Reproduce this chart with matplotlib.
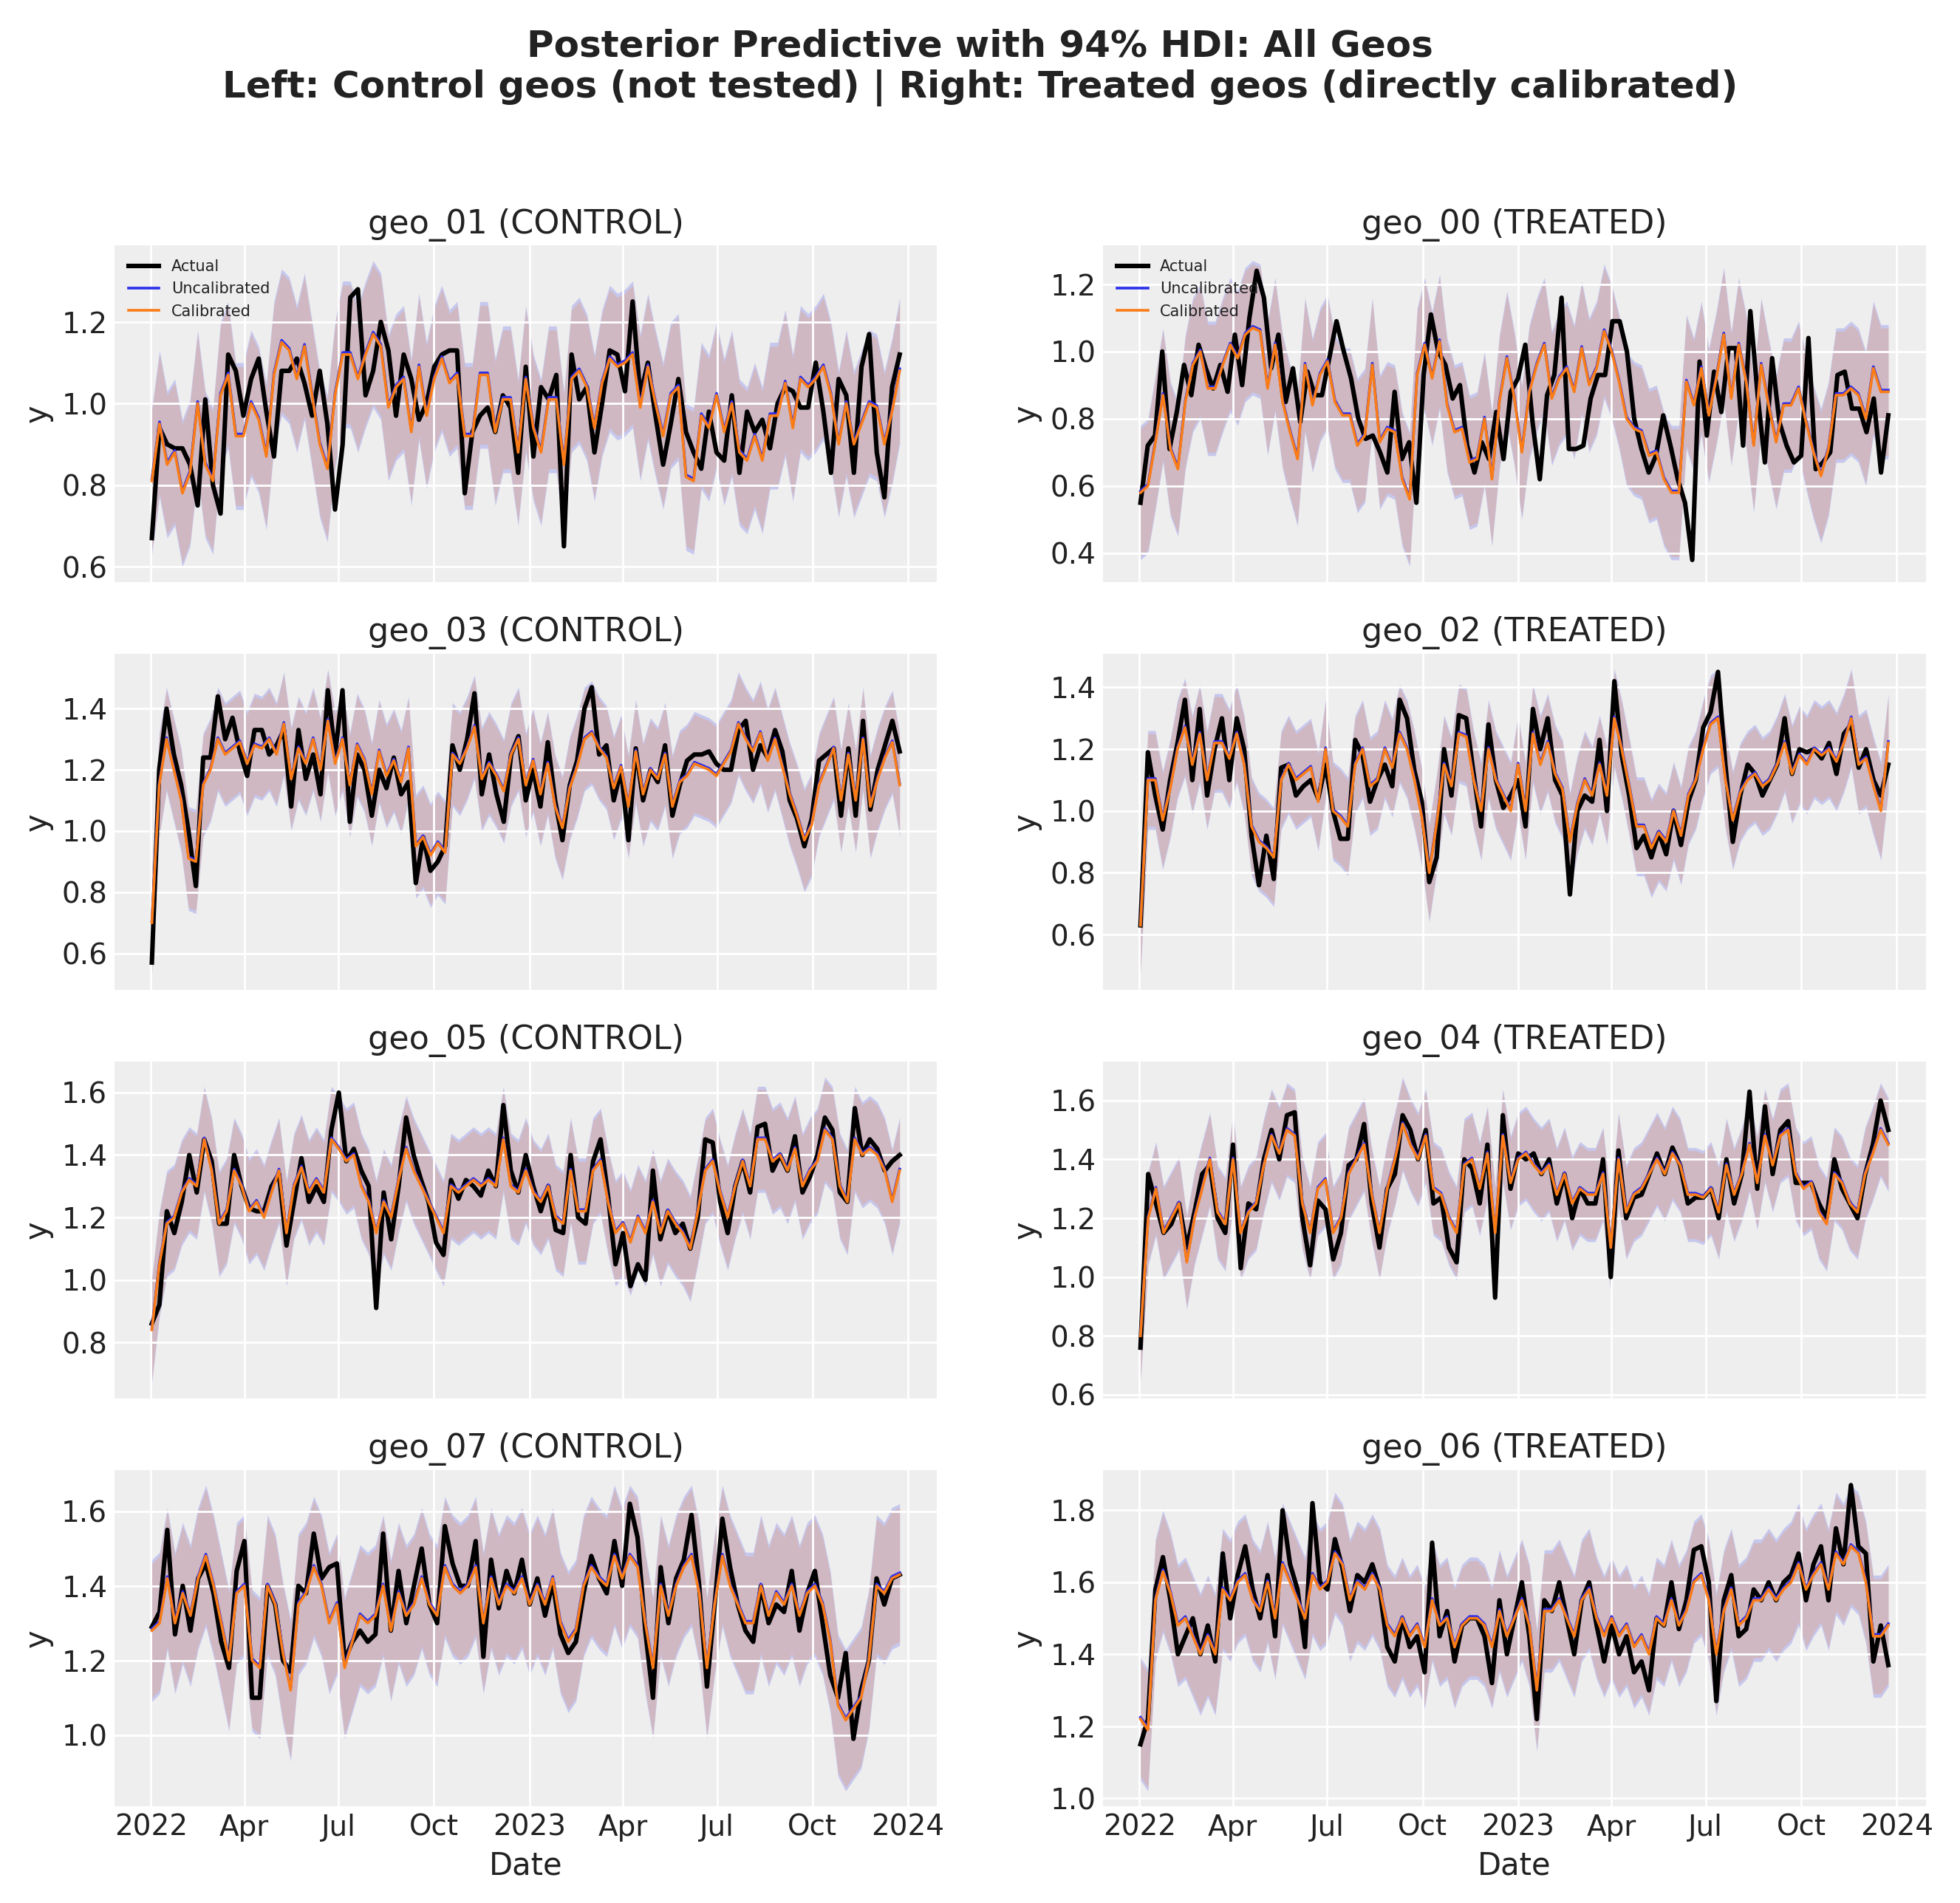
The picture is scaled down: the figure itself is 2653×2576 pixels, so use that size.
import numpy as np
import pandas as pd
import matplotlib
matplotlib.use("Agg")
import matplotlib.pyplot as plt
import matplotlib.ticker as ticker

# ---- data (weekly, 2022-01-02 .. 2023-12-24) ----
geo_01_actual = [0.67,0.94,0.90,0.89,0.89,0.85,0.75,1.01,0.80,0.73,1.12,1.08,0.97,1.06,1.11,0.98,0.87,1.08,1.08,1.11,1.05,0.97,1.08,0.95,0.74,0.90,1.26,1.28,1.02,1.08,1.20,1.13,0.97,1.12,1.06,0.96,1.00,1.09,1.12,1.13,1.13,0.78,0.93,0.97,0.99,0.93,1.02,0.99,0.83,1.09,0.87,1.04,1.01,1.07,0.65,1.12,1.01,1.04,0.88,1.00,1.13,1.12,1.03,1.25,1.02,1.10,0.97,0.85,0.95,1.06,0.93,0.88,0.84,0.98,0.88,0.86,1.02,0.83,0.98,0.93,0.96,0.89,1.00,1.04,1.03,0.99,0.99,1.10,0.98,0.83,1.06,1.02,0.83,1.09,1.17,0.88,0.77,1.04,1.12]
geo_01_cal = [0.81,0.95,0.85,0.88,0.78,0.83,1.00,0.85,0.81,1.02,1.07,0.92,0.92,1.00,0.96,0.87,1.07,1.15,1.13,1.06,1.14,1.02,0.90,0.84,1.02,1.12,1.12,1.06,1.12,1.17,1.14,0.99,1.04,1.06,0.93,1.09,0.97,1.06,1.11,1.05,1.07,0.92,0.92,1.07,1.07,0.93,1.01,1.01,0.88,1.06,0.94,0.88,1.01,1.01,0.85,1.06,1.08,1.04,0.94,1.05,1.11,1.09,1.10,1.12,0.99,1.09,1.00,0.92,1.02,1.04,0.82,0.81,0.97,0.94,1.02,0.93,1.00,0.88,0.86,0.92,0.86,0.97,0.97,1.05,0.94,1.06,1.04,1.06,1.09,1.02,0.90,1.00,0.90,0.95,1.00,0.99,0.90,0.98,1.08]
geo_00_actual = [0.55,0.72,0.75,1.00,0.71,0.82,0.96,0.87,1.02,0.95,0.89,0.96,0.88,1.05,0.90,1.10,1.24,1.16,0.95,1.05,0.85,0.95,0.79,0.94,0.87,0.87,0.98,1.09,1.00,0.92,0.80,0.74,0.75,0.70,0.64,0.88,0.68,0.73,0.55,0.93,1.11,1.00,0.96,0.86,0.90,0.72,0.64,0.73,0.68,0.82,0.68,0.88,0.92,1.02,0.79,0.62,0.87,0.93,1.16,0.71,0.71,0.72,0.86,0.93,0.93,1.09,1.09,1.00,0.80,0.71,0.64,0.69,0.81,0.72,0.62,0.55,0.38,0.97,0.75,0.94,0.82,1.01,1.01,0.72,1.12,0.87,0.67,0.98,0.79,0.72,0.67,0.69,1.04,0.65,0.67,0.70,0.93,0.94,0.83,0.83,0.76,0.86,0.64,0.81]
geo_00_cal = [0.58,0.60,0.73,0.87,0.71,0.65,0.85,0.96,1.00,0.89,0.89,0.96,1.02,0.98,1.05,1.07,1.06,0.89,1.02,0.85,0.76,0.68,0.96,0.84,0.93,0.97,0.85,0.81,0.81,0.72,0.75,0.96,0.73,0.77,0.76,0.62,0.56,0.93,1.02,0.92,1.03,0.84,0.76,0.77,0.67,0.68,0.80,0.62,0.85,0.98,0.86,0.70,0.88,0.96,1.02,0.86,0.92,0.95,0.88,1.01,0.90,0.95,1.06,1.00,0.91,0.80,0.77,0.76,0.69,0.70,0.62,0.58,0.58,0.91,0.84,0.95,0.81,0.92,1.05,0.86,1.02,0.91,0.72,0.96,0.84,0.73,0.84,0.84,0.89,0.79,0.70,0.63,0.71,0.87,0.87,0.89,0.87,0.80,0.95,0.88,0.88]
geo_03_actual = [0.57,1.20,1.40,1.25,1.15,1.00,0.82,1.24,1.24,1.44,1.30,1.37,1.26,1.18,1.33,1.33,1.25,1.28,1.33,1.08,1.33,1.17,1.25,1.12,1.46,1.25,1.46,1.03,1.25,1.20,1.05,1.20,1.14,1.24,1.12,1.16,0.83,0.98,0.87,0.90,0.95,1.28,1.20,1.30,1.45,1.12,1.25,1.12,1.03,1.25,1.31,1.10,1.20,1.08,1.29,1.10,0.97,1.15,1.23,1.40,1.47,1.25,1.28,1.10,1.20,0.97,1.27,1.10,1.20,1.16,1.28,1.05,1.15,1.23,1.25,1.25,1.26,1.22,1.20,1.20,1.33,1.36,1.20,1.28,1.24,1.33,1.26,1.10,1.04,0.95,1.04,1.23,1.25,1.27,1.05,1.27,1.05,1.36,1.07,1.20,1.28,1.36,1.26]
geo_03_cal = [0.70,1.15,1.30,1.20,1.10,0.91,0.90,1.15,1.20,1.30,1.25,1.27,1.29,1.22,1.28,1.27,1.30,1.25,1.35,1.17,1.27,1.22,1.30,1.20,1.36,1.22,1.30,1.15,1.28,1.23,1.12,1.26,1.18,1.23,1.16,1.27,0.95,0.98,0.92,0.96,0.93,1.25,1.22,1.27,1.34,1.17,1.22,1.18,1.13,1.25,1.30,1.15,1.23,1.12,1.22,1.08,1.01,1.14,1.21,1.30,1.32,1.27,1.24,1.14,1.21,1.08,1.26,1.12,1.20,1.17,1.25,1.08,1.16,1.18,1.22,1.21,1.20,1.18,1.22,1.26,1.35,1.30,1.26,1.32,1.23,1.30,1.21,1.12,1.05,0.97,1.02,1.15,1.21,1.27,1.10,1.25,1.10,1.30,1.08,1.17,1.24,1.29,1.15]
geo_02_actual = [0.63,1.19,1.05,0.94,1.10,1.22,1.36,1.10,1.33,1.05,1.20,1.30,1.10,1.30,1.20,0.92,0.76,0.92,0.78,1.14,1.15,1.05,1.08,1.10,1.04,1.15,1.00,0.91,0.91,1.23,1.18,1.03,1.10,1.15,1.08,1.36,1.30,1.13,1.03,0.77,0.85,1.20,1.05,1.31,1.30,1.12,0.95,1.28,1.10,1.01,1.05,1.10,0.95,1.33,1.20,1.30,1.10,1.05,0.73,1.00,1.05,1.03,1.23,1.00,1.42,1.18,1.05,0.88,0.92,0.85,0.93,0.86,1.00,0.89,1.03,1.10,1.27,1.32,1.45,1.15,0.90,1.05,1.15,1.12,1.05,1.10,1.15,1.30,1.12,1.20,1.19,1.20,1.17,1.22,1.12,1.25,1.28,1.14,1.20,1.10,1.05,1.15]
geo_02_cal = [0.63,1.10,1.10,0.97,1.07,1.20,1.27,1.15,1.25,1.10,1.22,1.22,1.17,1.25,1.15,0.95,0.90,0.88,0.85,1.10,1.15,1.10,1.12,1.14,1.03,1.20,1.00,0.98,0.95,1.15,1.20,1.08,1.10,1.20,1.14,1.25,1.20,1.10,0.98,0.80,0.96,1.15,1.08,1.25,1.24,1.10,1.00,1.20,1.10,1.05,1.00,1.15,1.00,1.25,1.15,1.22,1.12,1.07,0.90,1.02,1.10,1.05,1.15,1.05,1.30,1.20,1.08,0.95,0.95,0.88,0.93,0.90,1.00,0.92,1.05,1.10,1.20,1.28,1.30,1.10,0.97,1.06,1.10,1.12,1.08,1.10,1.15,1.22,1.12,1.18,1.15,1.20,1.18,1.20,1.16,1.22,1.30,1.15,1.17,1.08,1.00,1.22]
geo_05_actual = [0.86,0.92,1.22,1.15,1.25,1.40,1.28,1.45,1.38,1.18,1.18,1.40,1.30,1.23,1.22,1.22,1.30,1.34,1.11,1.25,1.39,1.25,1.30,1.25,1.48,1.60,1.38,1.42,1.35,1.30,0.91,1.28,1.13,1.30,1.52,1.40,1.32,1.25,1.12,1.08,1.32,1.26,1.32,1.30,1.27,1.35,1.30,1.56,1.35,1.28,1.40,1.30,1.22,1.30,1.16,1.15,1.40,1.20,1.18,1.38,1.45,1.27,1.05,1.15,0.98,1.05,1.00,1.35,1.13,1.22,1.15,1.18,1.10,1.20,1.45,1.44,1.25,1.15,1.30,1.38,1.28,1.49,1.50,1.35,1.40,1.35,1.46,1.28,1.33,1.40,1.52,1.48,1.28,1.25,1.55,1.40,1.45,1.42,1.35,1.38,1.40]
geo_05_cal = [0.84,1.05,1.18,1.20,1.28,1.32,1.30,1.45,1.35,1.18,1.22,1.35,1.30,1.22,1.25,1.20,1.28,1.35,1.15,1.30,1.36,1.28,1.32,1.28,1.45,1.42,1.38,1.40,1.30,1.25,1.15,1.25,1.20,1.32,1.42,1.35,1.30,1.25,1.20,1.15,1.30,1.28,1.30,1.32,1.30,1.32,1.30,1.45,1.30,1.28,1.35,1.28,1.25,1.30,1.20,1.18,1.35,1.22,1.22,1.35,1.38,1.25,1.15,1.18,1.12,1.20,1.15,1.25,1.15,1.22,1.18,1.15,1.10,1.22,1.35,1.38,1.28,1.20,1.30,1.38,1.30,1.45,1.45,1.38,1.40,1.35,1.42,1.30,1.35,1.38,1.48,1.45,1.30,1.25,1.45,1.40,1.42,1.40,1.35,1.25,1.35]
geo_04_actual = [0.76,1.35,1.25,1.15,1.18,1.25,1.10,1.22,1.35,1.38,1.20,1.15,1.45,1.03,1.25,1.23,1.40,1.50,1.40,1.55,1.56,1.20,1.04,1.26,1.23,1.06,1.15,1.38,1.40,1.52,1.25,1.10,1.30,1.35,1.55,1.50,1.40,1.50,1.25,1.27,1.10,1.05,1.40,1.37,1.25,1.45,0.93,1.55,1.30,1.42,1.40,1.42,1.35,1.40,1.25,1.35,1.20,1.30,1.25,1.25,1.40,1.00,1.43,1.20,1.27,1.28,1.35,1.42,1.35,1.44,1.38,1.25,1.27,1.27,1.30,1.20,1.40,1.25,1.35,1.63,1.30,1.58,1.35,1.50,1.53,1.32,1.32,1.32,1.25,1.20,1.40,1.30,1.25,1.20,1.35,1.45,1.60,1.50]
geo_04_cal = [0.80,1.20,1.30,1.15,1.20,1.25,1.05,1.20,1.30,1.40,1.22,1.18,1.40,1.15,1.22,1.25,1.38,1.48,1.42,1.50,1.48,1.25,1.15,1.30,1.33,1.15,1.20,1.35,1.40,1.45,1.28,1.15,1.30,1.40,1.52,1.45,1.40,1.48,1.30,1.28,1.20,1.15,1.38,1.40,1.30,1.42,1.15,1.48,1.32,1.40,1.42,1.38,1.35,1.38,1.28,1.35,1.25,1.30,1.28,1.28,1.35,1.10,1.40,1.22,1.28,1.30,1.35,1.40,1.35,1.42,1.38,1.28,1.28,1.27,1.30,1.22,1.38,1.28,1.35,1.45,1.32,1.48,1.38,1.48,1.50,1.35,1.30,1.32,1.22,1.18,1.35,1.32,1.25,1.22,1.35,1.42,1.50,1.45]
geo_07_actual = [1.29,1.33,1.55,1.27,1.40,1.28,1.42,1.46,1.38,1.25,1.18,1.44,1.52,1.10,1.10,1.40,1.35,1.20,1.17,1.40,1.38,1.54,1.42,1.45,1.46,1.20,1.25,1.28,1.25,1.27,1.54,1.28,1.44,1.30,1.40,1.50,1.35,1.30,1.56,1.46,1.40,1.40,1.52,1.21,1.47,1.34,1.44,1.38,1.47,1.35,1.42,1.32,1.41,1.27,1.22,1.25,1.38,1.48,1.42,1.38,1.52,1.40,1.62,1.53,1.28,1.10,1.45,1.30,1.42,1.47,1.59,1.40,1.13,1.35,1.58,1.45,1.35,1.28,1.25,1.40,1.30,1.35,1.33,1.44,1.28,1.38,1.44,1.30,1.16,1.10,1.22,0.99,1.12,1.20,1.42,1.35,1.42,1.43]
geo_07_cal = [1.28,1.30,1.42,1.30,1.38,1.32,1.42,1.48,1.40,1.30,1.20,1.38,1.40,1.20,1.18,1.40,1.35,1.22,1.12,1.35,1.38,1.45,1.40,1.30,1.35,1.18,1.25,1.32,1.30,1.32,1.40,1.28,1.38,1.32,1.35,1.42,1.35,1.32,1.45,1.40,1.38,1.40,1.45,1.30,1.42,1.35,1.40,1.38,1.42,1.35,1.40,1.35,1.42,1.30,1.25,1.28,1.40,1.45,1.42,1.40,1.48,1.42,1.48,1.45,1.30,1.18,1.40,1.32,1.40,1.45,1.48,1.38,1.18,1.35,1.48,1.40,1.35,1.30,1.30,1.40,1.32,1.38,1.35,1.40,1.32,1.38,1.40,1.35,1.25,1.08,1.04,1.07,1.10,1.20,1.40,1.38,1.42,1.43]
geo_06_actual = [1.15,1.22,1.58,1.67,1.55,1.40,1.45,1.50,1.40,1.48,1.38,1.68,1.50,1.62,1.70,1.58,1.50,1.62,1.45,1.80,1.65,1.58,1.42,1.82,1.60,1.58,1.72,1.64,1.52,1.62,1.60,1.65,1.58,1.42,1.38,1.50,1.42,1.45,1.35,1.71,1.45,1.52,1.38,1.48,1.50,1.50,1.45,1.32,1.55,1.40,1.50,1.60,1.45,1.22,1.55,1.52,1.60,1.50,1.40,1.55,1.60,1.48,1.38,1.48,1.40,1.45,1.35,1.38,1.30,1.50,1.48,1.60,1.47,1.55,1.69,1.70,1.60,1.27,1.55,1.62,1.45,1.47,1.58,1.55,1.60,1.55,1.60,1.62,1.68,1.55,1.65,1.70,1.55,1.75,1.65,1.87,1.70,1.68,1.38,1.48,1.37]
geo_06_cal = [1.22,1.19,1.55,1.63,1.57,1.48,1.50,1.45,1.40,1.45,1.40,1.58,1.55,1.60,1.62,1.55,1.52,1.60,1.50,1.65,1.60,1.55,1.50,1.62,1.58,1.60,1.68,1.65,1.55,1.60,1.58,1.62,1.58,1.48,1.45,1.50,1.45,1.48,1.42,1.55,1.48,1.50,1.42,1.48,1.50,1.50,1.48,1.42,1.52,1.45,1.50,1.55,1.48,1.30,1.52,1.52,1.55,1.50,1.45,1.55,1.58,1.50,1.45,1.50,1.45,1.48,1.42,1.45,1.40,1.50,1.48,1.55,1.48,1.52,1.60,1.62,1.55,1.40,1.52,1.58,1.48,1.50,1.55,1.55,1.58,1.55,1.58,1.60,1.65,1.58,1.62,1.65,1.58,1.68,1.65,1.70,1.68,1.60,1.45,1.45,1.48]

# half-width of the 94% HDI band per geo (approximate)
hdi_half = {"geo_01": 0.17, "geo_00": 0.19, "geo_03": 0.16, "geo_02": 0.15,
            "geo_05": 0.16, "geo_04": 0.15, "geo_07": 0.18, "geo_06": 0.16}

panels = [
    ("geo_01", "CONTROL", geo_01_actual, geo_01_cal), ("geo_00", "TREATED", geo_00_actual, geo_00_cal),
    ("geo_03", "CONTROL", geo_03_actual, geo_03_cal), ("geo_02", "TREATED", geo_02_actual, geo_02_cal),
    ("geo_05", "CONTROL", geo_05_actual, geo_05_cal), ("geo_04", "TREATED", geo_04_actual, geo_04_cal),
    ("geo_07", "CONTROL", geo_07_actual, geo_07_cal), ("geo_06", "TREATED", geo_06_actual, geo_06_cal),
]

START, END = "2022-01-02", "2023-12-24"
tick_dates = pd.to_datetime(["2022-01-01", "2022-04-01", "2022-07-01", "2022-10-01", "2023-01-01",
                             "2023-04-01", "2023-07-01", "2023-10-01", "2024-01-01"])
tick_labels = ["2022", "Apr", "Jul", "Oct", "2023", "Apr", "Jul", "Oct", "2024"]

BLUE = "#2a2eec"
ORANGE = "#fa7c17"

plt.rcParams.update({
    "font.family": "DejaVu Sans",
    "axes.facecolor": "#eeeeee",
    "figure.facecolor": "white",
    "axes.edgecolor": "none",
    "axes.grid": True,
    "grid.color": "white",
    "grid.linewidth": 1.0,
    "xtick.color": "#222222",
    "ytick.color": "#222222",
    "text.color": "#222222",
    "axes.labelcolor": "#222222",
    "xtick.major.size": 0,
    "ytick.major.size": 0,
})

fig, axes = plt.subplots(4, 2, figsize=(13.265, 12.88), dpi=200, sharex=True)

for ax, (geo, kind, actual, cal) in zip(axes.flat, panels):
    d_act = pd.date_range(START, END, periods=len(actual))
    d_cal = pd.date_range(START, END, periods=len(cal))
    cal = np.asarray(cal)
    hw = hdi_half[geo]
    ax.fill_between(d_cal, cal - hw - 0.01, cal + hw + 0.01, color=BLUE, alpha=0.2, lw=0)
    ax.fill_between(d_cal, cal - hw, cal + hw, color=ORANGE, alpha=0.2, lw=0)
    ax.plot(d_act, actual, color="black", lw=2.2, label="Actual", zorder=3)
    ax.plot(d_cal, cal + 0.005, color=BLUE, lw=1.3, label="Uncalibrated", zorder=4)
    ax.plot(d_cal, cal, color=ORANGE, lw=1.3, label="Calibrated", zorder=5)
    ax.set_title(f"{geo} ({kind})", fontsize=16)
    ax.set_ylabel("y", fontsize=15)
    ax.tick_params(labelsize=14)
    ax.yaxis.set_major_locator(ticker.MultipleLocator(0.2))
    ax.set_xticks(tick_dates)
    ax.set_xticklabels(tick_labels)
    if geo in ("geo_01", "geo_00"):
        ax.legend(loc="upper left", fontsize=7.5, frameon=False)

for ax in axes[-1]:
    ax.set_xlabel("Date", fontsize=15)
    ax.tick_params(axis="x", labelbottom=True)

fig.suptitle("Posterior Predictive with 94% HDI: All Geos\n"
             "Left: Control geos (not tested) | Right: Treated geos (directly calibrated)",
             fontsize=18, fontweight="bold", y=0.985)
fig.tight_layout(rect=[0, 0, 1, 0.955], h_pad=1.0, w_pad=3)
fig.savefig("out.png", dpi=200)
